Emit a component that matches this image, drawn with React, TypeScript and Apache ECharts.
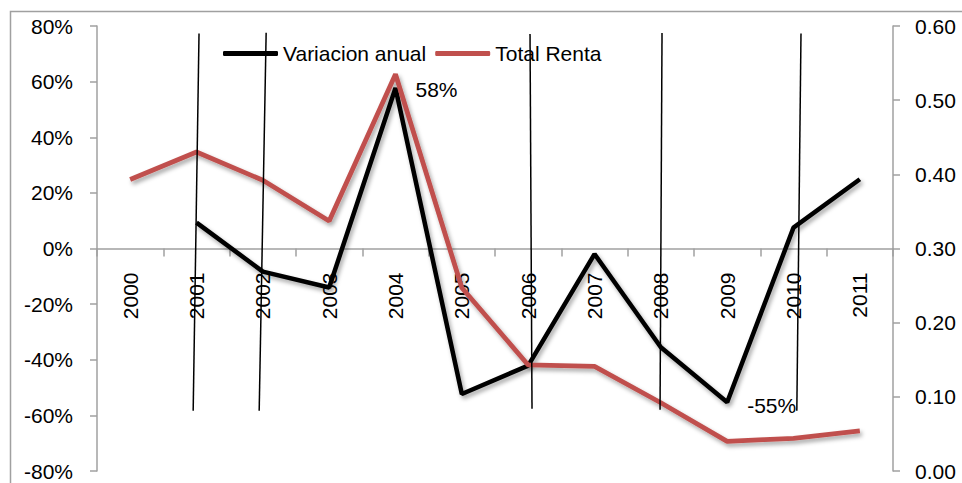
import React, { useEffect, useRef } from "react";
import * as echarts from "echarts";

const years = ["2000", "2001", "2002", "2003", "2004", "2005", "2006", "2007", "2008", "2009", "2010", "2011"];
const variacionAnual = [null, 9.3, -8.3, -14, 57.7, -52.3, -42.1, -2, -35.5, -55.3, 7.5, 24.9];
const totalRenta = [0.393, 0.43, 0.392, 0.337, 0.535, 0.247, 0.143, 0.141, 0.092, 0.04, 0.044, 0.054];
const labeledYears = ["2004", "2009"];
// thin hand-drawn lines: [xTop (category index), yTop (%), xBottom, yBottom (%)]
const decoLines = [
  [1.038, 77.3, 0.95, -58.3],
  [2.05, 77.6, 1.945, -58.3],
  [6.028, 77.1, 6.058, -57.6],
  [8.018, 77.5, 7.988, -58.0],
  [10.113, 77.3, 10.05, -58.3],
];

const FONT = "'Liberation Sans', Arial, sans-serif";
const FS = 21;
const GRID_TOP = 26;
const GRID_BOTTOM = 12;
const HEIGHT = 483;

export default function App() {
  const ref = useRef<HTMLDivElement>(null);
  useEffect(() => {
    const chart = echarts.init(ref.current!, null, { renderer: "svg" });
    const shadow = {
      shadowColor: "rgba(0,0,0,0.35)",
      shadowBlur: 4,
      shadowOffsetX: 2,
      shadowOffsetY: 3,
    };
    // x axis sits at 0% of the left axis (middle of -80..80)
    const zeroOffset = -(HEIGHT - GRID_TOP - GRID_BOTTOM) / 2;
    const blackData = variacionAnual.map((v, i) =>
      labeledYears.includes(years[i])
        ? {
            value: v,
            label: {
              show: true,
              position: "right",
              distance: 20,
              offset: [0, years[i] === "2009" ? 3 : 1],
              formatter: (p: any) => Math.round(p.value) + "%",
              fontSize: FS,
              fontFamily: FONT,
              color: "#000",
            },
          }
        : v
    );
    chart.setOption({
      animation: false,
      backgroundColor: "#fff",
      graphic: [
        {
          type: "rect",
          shape: { x: 10.5, y: 11.5, width: 1200, height: 1200 },
          style: { fill: "none", stroke: "#a0a0a0", lineWidth: 1.5 },
          silent: true,
          z: -10,
        },
      ],
      legend: {
        top: 38,
        left: 218,
        itemWidth: 55,
        itemHeight: 5,
        itemGap: 9,
        icon: "roundRect",
        data: ["Variacion anual", "Total Renta"],
        textStyle: { fontSize: FS, fontFamily: FONT, color: "#000" },
      },
      grid: { left: 97, right: 69, top: GRID_TOP, bottom: GRID_BOTTOM, outerBoundsMode: "none", containLabel: false },
      xAxis: [
        {
          type: "category",
          data: years,
          boundaryGap: true,
          position: "bottom",
          offset: zeroOffset,
          axisLine: { onZero: false, lineStyle: { color: "#a0a0a0", width: 1.5 } },
          axisTick: { show: true, length: 8, lineStyle: { color: "#a0a0a0", width: 1.5 } },
          axisLabel: {
            rotate: 90,
            margin: 24,
            fontSize: FS,
            fontFamily: FONT,
            color: "#000",
          },
          splitLine: { show: false },
        },
        {
          type: "value",
          min: -0.5,
          max: 11.5,
          show: false,
          position: "top",
        },
      ],
      yAxis: [
        {
          type: "value",
          min: -80,
          max: 80,
          interval: 20,
          position: "left",
          axisLine: { show: true, onZero: false, lineStyle: { color: "#a0a0a0", width: 1.5 } },
          axisTick: { show: true, length: 7, lineStyle: { color: "#a0a0a0", width: 1.5 } },
          axisLabel: {
            formatter: (v: number) => v + "%",
            margin: 24,
            fontSize: FS,
            fontFamily: FONT,
            color: "#000",
          },
          splitLine: { show: false },
        },
        {
          type: "value",
          min: 0,
          max: 0.6,
          interval: 0.1,
          position: "right",
          axisLine: { show: true, onZero: false, lineStyle: { color: "#a0a0a0", width: 1.5 } },
          axisTick: { show: true, length: 7, lineStyle: { color: "#a0a0a0", width: 1.5 } },
          axisLabel: {
            formatter: (v: number) => v.toFixed(2),
            margin: 22,
            fontSize: FS,
            fontFamily: FONT,
            color: "#000",
          },
          splitLine: { show: false },
        },
      ],
      series: [
        {
          name: "Variacion anual",
          type: "line",
          xAxisIndex: 0,
          yAxisIndex: 0,
          data: blackData,
          symbol: "circle",
          symbolSize: 0,
          showSymbol: true,
          color: "#000",
          lineStyle: { color: "#000", width: 4.5, ...shadow },
          itemStyle: { color: "#000" },
          z: 3,
        },
        {
          name: "Total Renta",
          type: "line",
          xAxisIndex: 0,
          yAxisIndex: 1,
          data: totalRenta,
          symbol: "none",
          color: "#C0504D",
          lineStyle: { color: "#C0504D", width: 4.8, ...shadow },
          itemStyle: { color: "#C0504D" },
          z: 4,
        },
        {
          type: "custom",
          xAxisIndex: 1,
          yAxisIndex: 0,
          data: decoLines,
          encode: { x: [0, 2], y: [1, 3] },
          z: 20,
          silent: true,
          renderItem: (params: any, api: any) => {
            const p1 = api.coord([api.value(0), api.value(1)]);
            const p2 = api.coord([api.value(2), api.value(3)]);
            return {
              type: "line",
              shape: { x1: p1[0], y1: p1[1], x2: p2[0], y2: p2[1] },
              style: { stroke: "#000", lineWidth: 1.5 },
            };
          },
        },
      ],
    });
    return () => chart.dispose();
  }, []);
  return (
    <div
      ref={ref}
      style={{ position: "fixed", left: 0, top: 0, width: 962, height: 483 }}
    />
  );
}
